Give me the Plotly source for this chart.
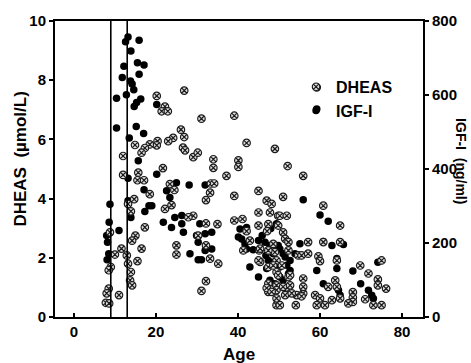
import plotly.graph_objects as go

# DHEAS (umol/L) vs age
dheas_age = [12.0, 15.7, 15.5, 17.1, 18.5, 13.2, 14.7, 13.9, 8.8, 17.3, 15.0, 14.2, 16.5, 11.6, 10.0, 12.9,
             15.5, 13.2, 9.0, 8.5, 13.9, 13.7, 14.2, 8.5, 8.0, 11.0, 7.8, 8.6, 23.4, 24.5, 23.8, 22.2,
             25.0, 25.0, 26.9, 20.2, 22.2, 21.4, 22.9, 26.1, 26.9, 24.2, 23.0, 20.4, 20.2, 18.5, 17.3, 16.5,
             14.9, 12.0, 21.7, 26.6, 31.1, 39.1, 59.2, 27.1, 29.1, 30.2, 34.0, 34.0, 40.1, 40.1, 42.1, 49.0,
             52.1, 55.9, 37.2, 33.4, 34.2, 33.2, 32.2, 39.1, 45.0, 47.0, 48.2, 45.0, 47.8, 49.8, 29.1, 27.9,
             32.2, 35.0, 39.1, 41.1, 45.0, 47.4, 47.1, 42.1, 42.9, 30.3, 32.2, 45.2, 48.6, 49.0, 41.3, 33.2,
             35.2, 45.4, 32.2, 31.1, 47.4, 47.4, 49.4, 47.4, 49.4, 51.0, 50.2, 51.9, 49.8, 51.0, 51.5, 45.4,
             47.4, 45.0, 52.3, 54.7, 57.1, 50.7, 49.4, 47.0, 49.4, 52.3, 54.3, 55.9, 50.2, 54.1, 58.8, 51.9,
             60.8, 64.9, 52.3, 60.8, 64.9, 55.5, 57.1, 59.6, 60.0, 64.1, 49.4, 48.6, 49.8, 52.7, 55.9, 51.0,
             52.7, 55.9, 48.2, 51.5, 53.1, 55.5, 49.4, 63.7, 62.0, 64.1, 60.0, 61.2, 62.9, 64.9, 68.0, 68.0,
             68.0, 69.8, 71.8, 71.0, 66.9, 59.2, 74.1, 74.1, 76.1, 75.0, 73.0, 75.0]
dheas_val = [4.80, 4.88, 4.62, 4.62, 4.15, 3.82, 3.98, 3.57, 2.86, 3.03, 2.75, 2.58, 2.31, 2.31, 2.11, 2.08,
             1.89, 1.80, 1.69, 1.58, 1.52, 1.24, 1.07, 0.96, 0.80, 0.74, 0.48, 0.46, 4.49, 4.29, 3.78, 3.65,
             2.42, 2.11, 7.65, 7.47, 7.11, 6.95, 6.95, 6.33, 6.08, 6.05, 5.94, 5.94, 5.80, 5.83, 5.71, 5.55,
             5.81, 5.44, 5.03, 5.72, 6.70, 6.80, 7.76, 5.63, 5.40, 5.55, 5.33, 5.04, 5.29, 5.07, 5.88, 5.68,
             5.10, 4.77, 4.77, 4.51, 4.51, 4.20, 3.95, 4.09, 4.26, 3.93, 3.82, 3.53, 3.53, 3.42, 3.42, 3.37,
             3.16, 3.14, 3.26, 3.31, 3.09, 3.14, 2.90, 2.90, 2.58, 2.75, 2.42, 2.25, 2.47, 2.19, 2.25, 1.97,
             1.80, 1.86, 1.21, 0.88, 1.69, 1.13, 1.07, 0.85, 0.40, 4.06, 3.42, 3.42, 3.09, 2.86, 2.64, 2.31,
             2.25, 1.91, 2.25, 2.08, 2.53, 1.74, 1.52, 0.98, 0.91, 1.35, 0.74, 0.80, 0.40, 0.40, 0.74, 0.85,
             3.76, 3.09, 2.53, 2.53, 2.53, 2.08, 2.14, 2.05, 1.89, 1.91, 1.91, 1.74, 1.41, 1.41, 1.30, 1.02,
             1.07, 1.02, 0.85, 0.74, 0.80, 0.70, 0.63, 1.24, 1.02, 1.02, 0.63, 0.40, 0.57, 0.63, 0.84, 0.66,
             0.51, 1.74, 1.47, 0.60, 0.46, 0.40, 1.27, 1.07, 0.96, 1.91, 0.40, 0.40]

# IGF-I (ng/ml) vs age
igf_age = [13.2, 12.6, 15.9, 13.9, 12.2, 15.5, 17.1, 15.9, 11.8, 13.8, 14.2, 14.6, 12.8, 10.4, 16.3, 15.3,
           14.7, 20.2, 10.4, 15.2, 17.0, 13.5, 15.7, 20.2, 13.2, 17.1, 18.3, 17.3, 8.8, 8.6, 11.0, 8.0,
           8.2, 8.5, 8.1, 13.9, 21.8, 22.6, 25.0, 23.8, 13.2, 59.2, 28.1, 32.0, 23.4, 19.0, 24.6, 26.3,
           26.7, 30.7, 32.0, 33.6, 29.9, 33.6, 28.3, 30.3, 31.1, 32.0, 26.3, 30.3, 40.5, 40.9, 41.7, 42.9,
           45.0, 42.1, 55.9, 60.0, 62.0, 55.1, 60.8, 62.9, 65.7, 64.1, 64.1, 59.2, 68.0, 60.8, 64.5, 64.9,
           69.9, 71.8, 72.6, 73.0, 74.1, 49.4, 50.2, 51.5, 52.7, 50.2, 48.6, 52.3, 51.0, 53.9, 40.1, 42.1,
           45.0, 47.0, 48.6, 50.2, 51.9, 47.4, 47.8, 49.0, 52.7, 43.7, 46.6, 51.0, 49.8, 48.0, 45.9, 47.8,
           46.8]
igf_val = [757, 744, 748, 719, 678, 687, 681, 656, 647, 638, 630, 614, 601, 591, 589, 580,
           569, 574, 511, 515, 496, 484, 422, 386, 375, 344, 301, 285, 305, 256, 234, 220,
           202, 171, 155, 269, 256, 341, 363, 242, 314, 562, 357, 357, 323, 301, 269, 252,
           229, 252, 225, 229, 220, 184, 171, 155, 155, 180, 274, 202, 238, 211, 198, 135,
           108, 242, 317, 276, 259, 198, 204, 193, 196, 158, 131, 126, 124, 90, 72, 59,
           90, 72, 59, 50, 148, 252, 184, 162, 153, 135, 171, 117, 99, 171, 216, 184,
           207, 131, 148, 108, 140, 153, 99, 90, 126, 182, 202, 171, 193, 239, 220, 193,
           166]

puberty_ages = [9, 13]
x_ticks = [0, 20, 40, 60, 80]
dheas_ticks = [0, 2, 4, 6, 8, 10]
igf_ticks = [0, 200, 400, 600, 800]

FONT = "Liberation Sans"

fig = go.Figure()
fig.add_trace(go.Scatter(
    x=igf_age, y=igf_val, mode="markers", name="IGF-I", yaxis="y", legendrank=2,
    marker=dict(symbol="circle", size=7.5, color="black", line=dict(width=0))))
fig.add_trace(go.Scatter(
    x=dheas_age, y=dheas_val, mode="markers", name="DHEAS", yaxis="y2", legendrank=1,
    marker=dict(symbol="circle-x", size=7.5, color="#dcdcdc",
                line=dict(color="#1a1a1a", width=1.2))))

for a in puberty_ages:
    fig.add_shape(type="line", xref="x", yref="paper", x0=a, x1=a, y0=0, y1=1,
                  line=dict(color="black", width=1.6), layer="above")

axis_common = dict(showgrid=False, zeroline=False, showline=True, linecolor="black",
                   linewidth=2, tickcolor="black", tickwidth=1.5, ticklen=4,
                   tickfont=dict(family=FONT, size=15, color="black", weight="bold"))

fig.update_layout(
    width=471, height=363,
    margin=dict(l=55, r=48, t=19, b=46),
    paper_bgcolor="white", plot_bgcolor="white",
    font=dict(family=FONT, color="black", weight="bold"),
    showlegend=True,
    legend=dict(x=0.655, y=0.835, xanchor="left", yanchor="top",
                bgcolor="rgba(0,0,0,0)", borderwidth=0,
                font=dict(family=FONT, size=16, color="black", weight="bold"),
                itemwidth=30, tracegroupgap=0),
    xaxis=dict(range=[-4.6, 85.1], tickvals=x_ticks, ticks="inside", mirror=True,
               **axis_common),
    yaxis=dict(range=[0, 800], tickvals=igf_ticks, side="right", ticks="outside",
               **axis_common),
    yaxis2=dict(range=[0, 10], tickvals=dheas_ticks, side="left", overlaying="y",
                ticks="outside", **axis_common),
    annotations=[
        dict(text="DHEAS  (\u00b5mol/L)", xref="paper", yref="paper", x=-0.095, y=0.532,
             textangle=-90, showarrow=False, xanchor="center", yanchor="middle",
             font=dict(family=FONT, size=17, color="black", weight="bold")),
        dict(text="IGF-I  (ng/ml)", xref="paper", yref="paper", x=1.103, y=0.527,
             textangle=90, showarrow=False, xanchor="center", yanchor="middle",
             font=dict(family=FONT, size=14, color="black", weight="bold")),
        dict(text="Age", xref="paper", yref="paper", x=0.5, y=-0.128,
             showarrow=False, xanchor="center", yanchor="middle",
             font=dict(family=FONT, size=17, color="black", weight="bold")),
    ],
)

fig.write_html("out.html", config={"displayModeBar": False},
               post_script="document.body.style.margin='0';document.body.style.padding='0';")
